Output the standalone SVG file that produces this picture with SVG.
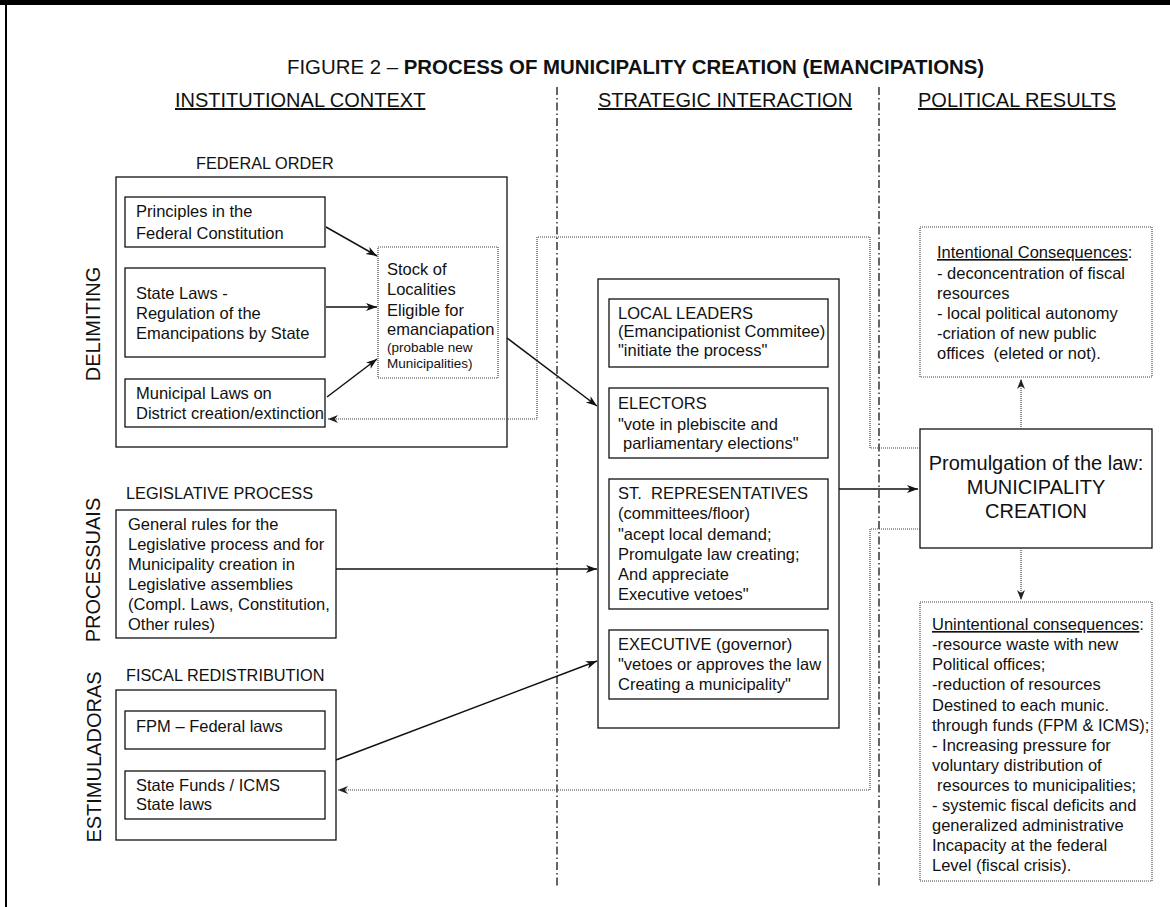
<svg xmlns="http://www.w3.org/2000/svg" width="1170" height="907" viewBox="0 0 1170 907">
<style>
text{font-family:"Liberation Sans",Arial,sans-serif;fill:#111;}
.t{font-size:16.5px;}
.s{font-size:13.5px;}
.lbl{font-size:16.3px;}
.hd{font-size:20px;text-decoration:underline;}
.vl{font-size:20px;text-anchor:middle;}
.box{fill:#fff;stroke:#111;stroke-width:1.3;}
.dbox{fill:none;stroke:#444;stroke-width:1.2;stroke-dasharray:1 1;}
.arr{fill:none;stroke:#111;stroke-width:1.5;marker-end:url(#ah);}
.darr{fill:none;stroke:#444;stroke-width:1.2;stroke-dasharray:1 1;marker-end:url(#ahd);}
.dd{stroke:#333;stroke-width:1.5;stroke-dasharray:8 3 1.5 3;}
</style>
<defs>
<marker id="ah" markerUnits="userSpaceOnUse" markerWidth="12" markerHeight="10" refX="11" refY="4" orient="auto"><path d="M0,0 L11,4 L0,8 L3,4 z" fill="#111"/></marker>
<marker id="ahd" markerUnits="userSpaceOnUse" markerWidth="12" markerHeight="10" refX="10" refY="4" orient="auto"><path d="M0,0 L10,4 L0,8 L3,4 z" fill="#222"/></marker>
</defs>
<rect x="0" y="0" width="1170" height="907" fill="#fff"/>
<rect x="0" y="0" width="1170" height="5" fill="#000"/>
<line x1="6" y1="0" x2="6" y2="907" stroke="#000" stroke-width="2"/>

<g id="title">
<text x="287" y="74" font-size="20.4">FIGURE 2 – <tspan font-weight="bold">PROCESS OF MUNICIPALITY CREATION (EMANCIPATIONS)</tspan></text>
</g>
<g id="headers">
<text class="hd" x="175" y="107">INSTITUTIONAL CONTEXT</text>
<text class="hd" x="598" y="107">STRATEGIC INTERACTION</text>
<text class="hd" x="918" y="107">POLITICAL RESULTS</text>
</g>
<g id="separators">
<line class="dd" x1="557" y1="87" x2="557" y2="887"/>
<line class="dd" x1="879" y1="87" x2="879" y2="887"/>
</g>
<g id="side-labels">
<text class="vl" transform="translate(100,324) rotate(-90)">DELIMITING</text>
<text class="vl" transform="translate(100,570) rotate(-90)">PROCESSUAIS</text>
<text class="vl" transform="translate(101,757) rotate(-90)">ESTIMULADORAS</text>
</g>

<g id="federal-order">
<text class="lbl" x="196" y="169">FEDERAL ORDER</text>
<rect class="box" x="116" y="177" width="391" height="270"/>
</g>
<g id="principles">
<rect class="box" x="125" y="197" width="200" height="50"/>
<text class="t" x="136" y="217">Principles in the</text>
<text class="t" x="136" y="239">Federal Constitution</text>
</g>
<g id="state-laws">
<rect class="box" x="125" y="268" width="200" height="89"/>
<text class="t" x="136" y="299">State Laws -</text>
<text class="t" x="136" y="319">Regulation of the</text>
<text class="t" x="136" y="339">Emancipations by State</text>
</g>
<g id="municipal-laws">
<rect class="box" x="125" y="379" width="200" height="48"/>
<text class="t" x="136" y="399">Municipal Laws on</text>
<text class="t" x="136" y="419">District creation/extinction</text>
</g>
<g id="stock">
<rect class="dbox" x="378" y="247" width="120" height="131"/>
<text class="t" x="387" y="275">Stock of</text>
<text class="t" x="387" y="295">Localities</text>
<text class="t" x="387" y="316">Eligible for</text>
<text class="t" x="387" y="335">emanciapation</text>
<text class="s" x="387" y="352">(probable new</text>
<text class="s" x="387" y="368">Municipalities)</text>
</g>

<g id="legislative">
<text class="lbl" x="126" y="499">LEGISLATIVE PROCESS</text>
<rect class="box" x="116" y="510" width="220" height="128"/>
<text class="t" x="128" y="530">General rules for the</text>
<text class="t" x="128" y="550">Legislative process and for</text>
<text class="t" x="128" y="570">Municipality creation in</text>
<text class="t" x="128" y="590">Legislative assemblies</text>
<text class="t" x="128" y="610">(Compl. Laws, Constitution,</text>
<text class="t" x="128" y="630">Other rules)</text>
</g>

<g id="fiscal">
<text class="lbl" x="126" y="681">FISCAL REDISTRIBUTION</text>
<rect class="box" x="116" y="690" width="220" height="150"/>
</g>
<g id="fpm">
<rect class="box" x="125" y="711" width="200" height="38"/>
<text class="t" x="136" y="732">FPM – Federal laws</text>
</g>
<g id="state-funds">
<rect class="box" x="125" y="771" width="200" height="48"/>
<text class="t" x="136" y="791">State Funds / ICMS</text>
<text class="t" x="136" y="810">State laws</text>
</g>

<g id="strategic">
<rect class="box" x="598" y="279" width="241" height="449"/>
</g>
<g id="local-leaders">
<rect class="box" x="609" y="299" width="219" height="68"/>
<text class="t" x="618" y="319">LOCAL LEADERS</text>
<text class="t" x="618" y="337" font-size="15.2">(Emancipationist Commitee)</text>
<text class="t" x="618" y="356">"initiate the process"</text>
</g>
<g id="electors">
<rect class="box" x="609" y="388" width="219" height="70"/>
<text class="t" x="618" y="409">ELECTORS</text>
<text class="t" x="618" y="430">"vote in plebiscite and</text>
<text class="t" x="623" y="449">parliamentary elections"</text>
</g>
<g id="representatives">
<rect class="box" x="609" y="479" width="219" height="130"/>
<text class="t" x="618" y="499" xml:space="preserve">ST.  REPRESENTATIVES</text>
<text class="t" x="618" y="519">(committees/floor)</text>
<text class="t" x="618" y="540">"acept local demand;</text>
<text class="t" x="618" y="560">Promulgate law creating;</text>
<text class="t" x="618" y="580">And appreciate</text>
<text class="t" x="618" y="600">Executive vetoes"</text>
</g>
<g id="executive">
<rect class="box" x="609" y="630" width="219" height="69"/>
<text class="t" x="618" y="650">EXECUTIVE (governor)</text>
<text class="t" x="618" y="670">"vetoes or approves the law</text>
<text class="t" x="618" y="690">Creating a municipality"</text>
</g>

<g id="intentional">
<rect class="dbox" x="920" y="227" width="232" height="150"/>
<text class="t" x="937" y="258"><tspan text-decoration="underline">Intentional Consequences</tspan>:</text>
<text class="t" x="937" y="279">- deconcentration of fiscal</text>
<text class="t" x="937" y="299">resources</text>
<text class="t" x="937" y="319">- local political autonomy</text>
<text class="t" x="937" y="339">-criation of new public</text>
<text class="t" x="937" y="359" xml:space="preserve">offices  (eleted or not).</text>
</g>
<g id="promulgation">
<rect class="box" x="920" y="429" width="232" height="119"/>
<text x="1036" y="470" font-size="20" text-anchor="middle">Promulgation of the law:</text>
<text x="1036" y="494" font-size="20" text-anchor="middle">MUNICIPALITY</text>
<text x="1036" y="518" font-size="20" text-anchor="middle">CREATION</text>
</g>
<g id="unintentional">
<rect class="dbox" x="920" y="602" width="232" height="279"/>
<text class="t" x="932" y="630"><tspan text-decoration="underline">Unintentional consequences</tspan>:</text>
<text class="t" x="932" y="650">-resource waste with new</text>
<text class="t" x="932" y="670">Political offices;</text>
<text class="t" x="932" y="690">-reduction of resources</text>
<text class="t" x="932" y="711">Destined to each munic.</text>
<text class="t" x="932" y="731">through funds (FPM &amp; ICMS);</text>
<text class="t" x="932" y="751">- Increasing pressure for</text>
<text class="t" x="932" y="771">voluntary distribution of</text>
<text class="t" x="937" y="791">resources to municipalities;</text>
<text class="t" x="932" y="811">- systemic fiscal deficits and</text>
<text class="t" x="932" y="831">generalized administrative</text>
<text class="t" x="932" y="851">Incapacity at the federal</text>
<text class="t" x="932" y="871">Level (fiscal crisis).</text>
</g>

<g id="connectors">
<line class="arr" x1="326" y1="227" x2="377" y2="256"/>
<line class="arr" x1="326" y1="307" x2="377" y2="307"/>
<line class="arr" x1="327" y1="397" x2="377" y2="359"/>
<line class="arr" x1="507" y1="338" x2="597" y2="406"/>
<line class="arr" x1="336" y1="569" x2="597" y2="569"/>
<line class="arr" x1="336" y1="760" x2="597" y2="661"/>
<line class="arr" x1="839" y1="489" x2="918" y2="489"/>
<line class="darr" x1="1021" y1="429" x2="1021" y2="379"/>
<line class="darr" x1="1021" y1="548" x2="1021" y2="600"/>
<polyline class="darr" points="920,448 870,448 870,237 537,237 537,419 328,419"/>
<polyline class="darr" points="920,529 870,529 870,790 338,790"/>
</g>
</svg>
